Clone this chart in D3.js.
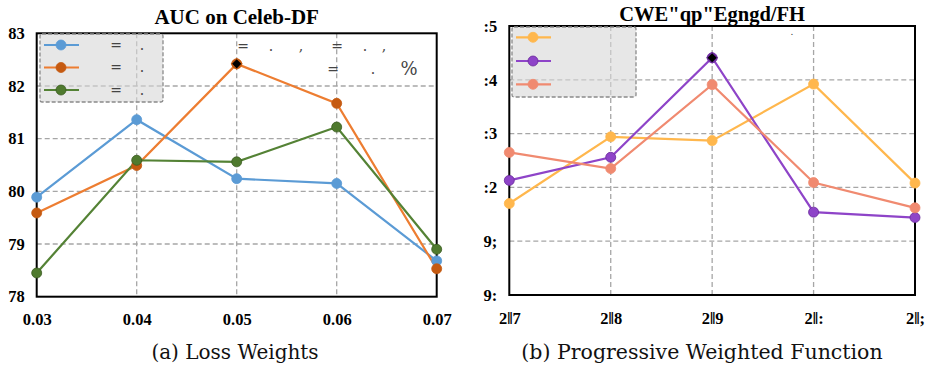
<!DOCTYPE html>
<html><head><meta charset="utf-8">
<script src="https://cdn.jsdelivr.net/npm/d3@7"></script>
<style>body{margin:0;background:#fff}svg{display:block}</style>
</head><body>
<script>
// ---- data ----
const lossWeights = [0.03, 0.04, 0.05, 0.06, 0.07];
const lossTickLabels = ["0.03", "0.04", "0.05", "0.06", "0.07"];
const lossYTicks = [78, 79, 80, 81, 82, 83];
const lossYTickLabels = ["78", "79", "80", "81", "82", "83"];
const lossBlue = [79.89, 81.36, 80.24, 80.15, 78.68];
const lossOrange = [79.59, 80.49, 82.42, 81.67, 78.53];
const lossGreen = [78.45, 80.59, 80.56, 81.22, 78.90];

const progX = [0.5, 0.6, 0.7, 0.8, 0.9];
const progTickLabels = ["2\u20167", "2\u20168", "2\u20169", "2\u2016:", "2\u2016;"];
const progYTicks = [78, 79, 80, 81, 82, 83];
const progYTickLabels = ["9:", "9;", ":2", ":3", ":4", ":5"];
const progYellow = [79.70, 80.94, 80.87, 81.92, 80.08];
const progPurple = [80.13, 80.56, 82.41, 79.54, 79.44];
const progSalmon = [80.65, 80.35, 81.91, 80.09, 79.62];

const titleA = "AUC on Celeb-DF";
const titleB = "CWE\"qp\"Egngd/FH";
const captionA = "(a) Loss Weights";
const captionB = "(b) Progressive Weighted Function";

const SERIF = "'Liberation Serif', 'Times New Roman', Times, serif";
const CAPF = "'DejaVu Serif', serif";

const W = 934, H = 365;
const svg = d3.select("body").append("svg").attr("width", W).attr("height", H);

function panel(cfg) {
  const g = svg.append("g");
  const x = d3.scaleLinear().domain([cfg.xv[0], cfg.xv[cfg.xv.length-1]]).range([cfg.x0, cfg.x1]);
  const y = d3.scaleLinear().domain([78, 83]).range([cfg.y1, cfg.y0]);
  // grid
  g.selectAll(".gy").data(cfg.yTicks.slice(1, -1)).enter().append("line")
    .attr("x1", cfg.x0).attr("x2", cfg.x1).attr("y1", d => y(d)).attr("y2", d => y(d))
    .attr("stroke", "#a6a6a6").attr("stroke-width", 1.3).attr("stroke-dasharray", "5,3");
  g.selectAll(".gx").data(cfg.xv.slice(1, -1)).enter().append("line")
    .attr("y1", cfg.y0).attr("y2", cfg.y1).attr("x1", d => x(d)).attr("x2", d => x(d))
    .attr("stroke", "#a6a6a6").attr("stroke-width", 1.3).attr("stroke-dasharray", "5,3");
  // frame
  g.append("rect").attr("x", cfg.x0).attr("y", cfg.y0).attr("width", cfg.x1 - cfg.x0).attr("height", cfg.y1 - cfg.y0)
    .attr("fill", "none").attr("stroke", "#000").attr("stroke-width", 2);
  // legend box
  const lg = cfg.legend;
  g.append("rect").attr("x", lg.x).attr("y", lg.y).attr("width", lg.w).attr("height", lg.h)
    .attr("fill", "rgba(215,215,215,0.6)").attr("stroke", "#8a8a8a").attr("stroke-width", 1.3)
    .attr("stroke-dasharray", "4,2").attr("rx", 2);
  cfg.series.forEach((s, i) => {
    const ly = lg.rows[i];
    g.append("line").attr("x1", lg.x + 4).attr("x2", lg.x + 39).attr("y1", ly).attr("y2", ly)
      .attr("stroke", s.line).attr("stroke-width", 2.2);
    g.append("circle").attr("cx", lg.x + 21).attr("cy", ly).attr("r", 5).attr("fill", s.dot).attr("stroke", s.edge).attr("stroke-width", 0.8);
  });
  // axes tick labels via d3 axis
  const ax = d3.axisBottom(x).tickValues(cfg.xv).tickFormat((d, i) => cfg.xLabels[i]).tickSize(0).tickPadding(17);
  const axg = g.append("g").attr("transform", `translate(0,${cfg.y1})`).call(ax);
  axg.attr("font-family", null).attr("font-size", null);
  axg.select(".domain").remove();
  axg.selectAll("text").style("font-family", SERIF).style("font-weight", "bold").style("font-size", "16.5px").attr("fill", "#000");
  const ay = d3.axisLeft(y).tickValues(cfg.yTicks).tickFormat((d, i) => cfg.yLabels[i]).tickSize(0).tickPadding(12);
  const ayg = g.append("g").attr("transform", `translate(${cfg.x0},0)`).call(ay);
  ayg.attr("font-family", null).attr("font-size", null);
  ayg.select(".domain").remove();
  ayg.selectAll("text").style("font-family", SERIF).style("font-weight", "bold").style("font-size", "16.5px").attr("fill", "#000");
  // series
  const line = d3.line().x((d, i) => x(cfg.xv[i])).y(d => y(d));
  cfg.series.forEach(s => {
    g.append("path").datum(s.v).attr("d", line).attr("fill", "none").attr("stroke", s.line).attr("stroke-width", 2.2);
  });
  cfg.series.forEach(s => {
    g.selectAll(null).data(s.v).enter().append("circle")
      .attr("cx", (d, i) => x(cfg.xv[i])).attr("cy", d => y(d)).attr("r", 5)
      .attr("fill", s.dot).attr("stroke", s.edge).attr("stroke-width", 0.8);
  });
  // best marker diamond
  const b = cfg.best;
  const bx = x(cfg.xv[b.i]), by = y(cfg.series[b.s].v[b.i]);
  g.append("path").attr("d", d3.symbol(d3.symbolSquare, 56)()).attr("transform", `translate(${bx},${by}) rotate(45)`)
    .attr("fill", "#000").attr("stroke", cfg.series[b.s].edge).attr("stroke-width", 1);
  // title
  g.append("text").attr("x", (cfg.x0 + cfg.x1) / 2).attr("y", cfg.titleY).attr("text-anchor", "middle")
    .style("font-family", SERIF).style("font-weight", "bold").style("font-size", cfg.titleSize).text(cfg.title);
  // caption
  g.append("text").attr("x", cfg.capX).attr("y", 359).attr("text-anchor", "middle")
    .style("font-family", CAPF).style("font-size", cfg.capSize).attr("fill", "#111").text(cfg.caption);
  return g;
}

const gA = panel({
  xv: lossWeights, xLabels: lossTickLabels, yTicks: lossYTicks, yLabels: lossYTickLabels,
  x0: 36.7, x1: 436.7, y0: 33.3, y1: 296.7,
  series: [
    {v: lossBlue, line: "#5b9bd5", dot: "#5b9bd5", edge: "#5b9bd5"},
    {v: lossOrange, line: "#ed7d31", dot: "#c55a11", edge: "#c55a11"},
    {v: lossGreen, line: "#548235", dot: "#4f7a2e", edge: "#3a5c20"}
  ],
  legend: {x: 40, y: 34, w: 123, h: 68, rows: [45, 67.5, 90]},
  best: {s: 1, i: 2},
  title: titleA, titleY: 24.3, titleSize: "21px", caption: captionA, capX: 235, capSize: "20px"
});
// stray legend glyphs (left)
const strayA = [
  {x: 116, y: 50, t: "="}, {x: 142, y: 50, t: "."},
  {x: 116, y: 72, t: "="}, {x: 142, y: 72, t: "."},
  {x: 116, y: 95, t: "="}, {x: 142, y: 95, t: "."},
  {x: 243, y: 51, t: "="}, {x: 271, y: 51, t: "."}, {x: 301, y: 51, t: ","},
  {x: 337, y: 51, t: "="}, {x: 365, y: 51, t: "."}, {x: 384, y: 51, t: ","},
  {x: 333, y: 74, t: "="}, {x: 373, y: 74, t: "."}, {x: 409, y: 75, t: "%"}
];
gA.selectAll(".stray").data(strayA).enter().append("text")
  .attr("x", d => d.x).attr("y", d => d.y).attr("text-anchor", "middle")
  .style("font-family", CAPF).style("font-size", d => d.t === "%" ? "18px" : "14px").attr("fill", "#444").text(d => d.t);

const gB = panel({
  xv: progX, xLabels: progTickLabels, yTicks: progYTicks, yLabels: progYTickLabels,
  x0: 509.3, x1: 915, y0: 26, y1: 295,
  series: [
    {v: progYellow, line: "#ffb74d", dot: "#ffb74d", edge: "#ffb74d"},
    {v: progPurple, line: "#8e44c8", dot: "#8e44c8", edge: "#6a2a9a"},
    {v: progSalmon, line: "#f08a70", dot: "#f08a70", edge: "#f08a70"}
  ],
  legend: {x: 512, y: 27, w: 124, h: 70, rows: [37.3, 61, 84.3]},
  best: {s: 1, i: 2},
  title: titleB, titleY: 21, titleSize: "20.5px", caption: captionB, capX: 702, capSize: "20.5px"
});
gB.append("text").attr("x", 792).attr("y", 35).attr("text-anchor", "middle")
  .style("font-family", CAPF).style("font-size", "9px").attr("fill", "#333").text(".");
</script>
</body></html>
